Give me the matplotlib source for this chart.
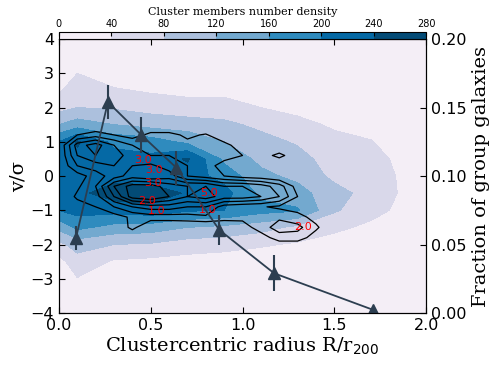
import numpy as np
import matplotlib
matplotlib.use("Agg")
import matplotlib.pyplot as plt

# ---------------- data ----------------
# grid for the filled density map (cluster members number density)
dens_R = [0.0, 0.1, 0.3, 0.5, 0.7, 0.9, 1.1, 1.3, 1.5, 1.7, 1.9, 2.0]
dens_v = [-4, -3.5, -3, -2.5, -2, -1.5, -1, -0.5, 0, 0.5, 1, 1.5, 2, 2.5, 3, 3.5, 4]
# one list per R column, values from v=-4 to v=4
dens_cols = [
    [0, 0, 5, 25, 70, 130, 200, 215, 215, 215, 200, 120, 65, 35, 10, 0, 0],
    [0, 10, 38, 65, 95, 170, 215, 230, 225, 230, 245, 140, 80, 60, 40, 15, 0],
    [0, 0, 10, 35, 80, 145, 215, 260, 225, 215, 190, 120, 75, 45, 15, 0, 0],
    [0, 0, 8, 30, 75, 140, 225, 265, 215, 210, 180, 105, 65, 35, 12, 0, 0],
    [0, 0, 5, 25, 60, 120, 205, 235, 220, 245, 150, 100, 55, 30, 8, 0, 0],
    [0, 0, 3, 20, 55, 110, 200, 215, 185, 150, 120, 90, 55, 30, 5, 0, 0],
    [0, 0, 0, 15, 45, 95, 175, 150, 130, 110, 95, 70, 40, 20, 0, 0, 0],
    [0, 0, 0, 10, 35, 70, 165, 135, 110, 95, 75, 50, 30, 10, 0, 0, 0],
    [0, 0, 0, 0, 20, 50, 85, 95, 70, 60, 50, 35, 15, 0, 0, 0, 0],
    [0, 0, 0, 0, 10, 30, 55, 65, 60, 55, 42, 25, 5, 0, 0, 0, 0],
    [0, 0, 0, 0, 0, 10, 25, 30, 30, 25, 12, 0, 0, 0, 0, 0, 0],
    [0, 0, 0, 0, 0, 5, 10, 12, 12, 10, 5, 0, 0, 0, 0, 0, 0],
]
dens_levels = [0, 40, 80, 120, 160, 200, 240, 280]

# grid for the black line contours (group galaxies)
grp_R = [0.0, 0.1, 0.2, 0.3, 0.4, 0.5, 0.6, 0.7, 0.8, 0.9, 1.0, 1.1, 1.2, 1.3, 1.4, 1.5]
grp_v = [-2.1, -1.8, -1.5, -1.2, -0.9, -0.6, -0.3, 0.0, 0.3, 0.6, 0.9, 1.2, 1.5]
grp_rows = [
    [0, 0, 0, 0, 0, 0, 0, 0, 0, 0, 0, 0, 0, 0, 0, 0],
    [0, 0, 0, 0, 0, 0, 0, 0, 0, 0, 0, 0.5, 1.5, 1.5, 0.5, 0],
    [0, 0, 0, 0, 1.3, 0, 0, 0, 0, 0, 0.5, 1.5, 2.5, 2.3, 1.2, 0],
    [0, 0, 0, 0.5, 1.2, 1.5, 1.5, 1.6, 1.8, 1.5, 1.3, 1.6, 1.8, 1.4, 0.6, 0],
    [0, 0.5, 1, 2, 3, 3.5, 3.5, 3, 3, 1.5, 1.2, 1.1, 0.8, 0.5, 0, 0],
    [0, 1.2, 1.5, 4, 6.5, 7, 6, 5, 5.5, 4.5, 4.5, 4, 3, 1, 0, 0],
    [0, 0.8, 2, 5, 6.5, 6.5, 5.5, 5, 5, 4, 4, 3.5, 2.5, 0.5, 0, 0],
    [0, 0.5, 1.5, 2.5, 3.5, 3, 3.5, 2, 1.5, 1, 0.5, 0.3, 0, 0, 0, 0],
    [0, 2, 2.5, 3, 3, 3.2, 2.5, 2, 1.2, 0.8, 0.5, 0, 0, 0, 0, 0],
    [0, 3, 4, 3.5, 2.5, 2, 2, 1.5, 1.5, 1.2, 1, 0.5, 1.3, 0.3, 0, 0],
    [0, 3.5, 4.5, 3, 2, 1.5, 1, 1.3, 1.5, 1.3, 0.5, 0, 0, 0, 0, 0],
    [0, 1, 1.5, 1, 0.5, 1.3, 1.3, 0.8, 1.1, 0.3, 0, 0, 0, 0, 0, 0],
    [0, 0, 0, 0, 0, 0, 0, 0, 0, 0, 0, 0, 0, 0, 0, 0],
]
grp_levels = [1, 2, 3, 4, 5, 6]
label_txt = ["3.0", "3.0", "3.0", "2.0", "1.0", "5.0", "1.0", "2.0"]
label_pos = [(0.46, 0.46), (0.52, 0.17), (0.51, -0.2), (0.48, -0.73),
             (0.53, -1.02), (0.82, -0.5), (0.81, -1.0), (1.33, -1.49)]

# fraction of group galaxies vs radius
frac_R = [0.093, 0.267, 0.449, 0.64, 0.874, 1.172, 1.713]
frac_val = [0.0548, 0.154, 0.130, 0.106, 0.0606, 0.029, 0.0022]
frac_err = [0.009, 0.0125, 0.013, 0.0125, 0.011, 0.013, 0.0]

# ---------------- plot ----------------
fig = plt.figure(figsize=(4.99, 3.65), dpi=100)
ax = fig.add_axes([0.118, 0.1425, 0.736, 0.7505])

Z = np.array(dens_cols).T
cf = ax.contourf(dens_R, dens_v, Z, levels=dens_levels, cmap="PuBu")

G = np.array(grp_rows)
cs = ax.contour(grp_R, grp_v, G, levels=grp_levels, colors="black", linewidths=0.9)
for txt, (x, y) in zip(label_txt, label_pos):
    ax.text(x, y, txt, color="red", fontsize=8, ha="center", va="center")

ax.set_xlim(0, 2)
ax.set_ylim(-4, 4)
ax.set_xticks([0, 0.5, 1.0, 1.5, 2.0])
ax.set_yticks(range(-4, 5))
ax.tick_params(direction="in", top=True, right=False, labelsize=11.5, length=4)
ax.set_xlabel("Clustercentric radius R/r$_{200}$", family="DejaVu Serif", fontsize=14, labelpad=2)
ax.set_ylabel("v/σ", family="DejaVu Serif", fontsize=14, labelpad=2)

ax2 = ax.twinx()
ax2.errorbar(frac_R, frac_val, yerr=frac_err, color="#2c3e50", marker="^", ms=9,
             lw=1.3, elinewidth=1.5, capsize=0)
ax2.set_ylim(0, 0.2)
ax2.set_yticks([0, 0.05, 0.10, 0.15, 0.20])
ax2.yaxis.set_major_formatter(matplotlib.ticker.FormatStrFormatter("%.2f"))
ax2.tick_params(direction="in", labelsize=11.5, length=4)
ax2.set_ylabel("Fraction of group galaxies", family="DejaVu Serif", fontsize=14, labelpad=4)

cax = fig.add_axes([0.118, 0.893, 0.736, 0.019])
cb = fig.colorbar(cf, cax=cax, orientation="horizontal")
cax.xaxis.set_ticks_position("top")
cax.xaxis.set_label_position("top")
cax.tick_params(direction="in", labelsize=7, length=3, pad=2)
cb.set_ticks(dens_levels)
cb.set_label("Cluster members number density", family="DejaVu Serif", fontsize=8, labelpad=3)
cb.outline.set_linewidth(0.8)

fig.savefig("out.png", dpi=100)
